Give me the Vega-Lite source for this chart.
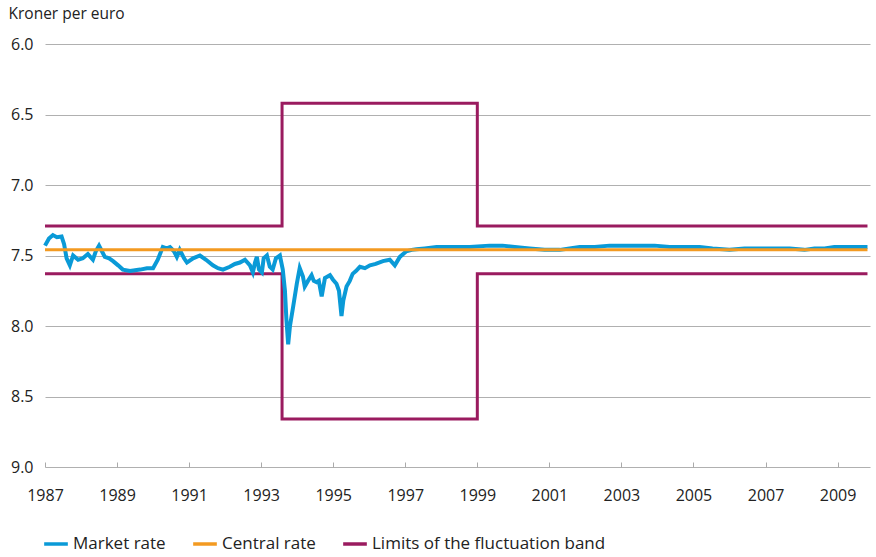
{
  "$schema": "https://vega.github.io/schema/vega-lite/v6.json",
  "width": 825,
  "height": 423,
  "autosize": {"type": "none"},
  "padding": {"left": 45, "top": 44, "right": 6, "bottom": 90},
  "background": "white",
  "config": {
    "view": {"stroke": null},
    "font": "Open Sans",
    "axis": {"labelFont": "Open Sans", "titleFont": "Open Sans", "labelColor": "#222", "titleColor": "#222"},
    "legend": {"labelFont": "Open Sans"}
  },
  "datasets": {
    "rates": [
      {"series": "Market rate", "part": "m", "i": 0, "t": 1987.00, "v": 7.43},
      {"series": "Market rate", "part": "m", "i": 1, "t": 1987.11, "v": 7.38},
      {"series": "Market rate", "part": "m", "i": 2, "t": 1987.22, "v": 7.355},
      {"series": "Market rate", "part": "m", "i": 3, "t": 1987.33, "v": 7.37},
      {"series": "Market rate", "part": "m", "i": 4, "t": 1987.46, "v": 7.365},
      {"series": "Market rate", "part": "m", "i": 5, "t": 1987.53, "v": 7.42},
      {"series": "Market rate", "part": "m", "i": 6, "t": 1987.60, "v": 7.52},
      {"series": "Market rate", "part": "m", "i": 7, "t": 1987.69, "v": 7.57},
      {"series": "Market rate", "part": "m", "i": 8, "t": 1987.78, "v": 7.50},
      {"series": "Market rate", "part": "m", "i": 9, "t": 1987.92, "v": 7.53},
      {"series": "Market rate", "part": "m", "i": 10, "t": 1988.05, "v": 7.52},
      {"series": "Market rate", "part": "m", "i": 11, "t": 1988.19, "v": 7.49},
      {"series": "Market rate", "part": "m", "i": 12, "t": 1988.33, "v": 7.53},
      {"series": "Market rate", "part": "m", "i": 13, "t": 1988.41, "v": 7.47},
      {"series": "Market rate", "part": "m", "i": 14, "t": 1988.50, "v": 7.43},
      {"series": "Market rate", "part": "m", "i": 15, "t": 1988.58, "v": 7.47},
      {"series": "Market rate", "part": "m", "i": 16, "t": 1988.66, "v": 7.51},
      {"series": "Market rate", "part": "m", "i": 17, "t": 1988.78, "v": 7.52},
      {"series": "Market rate", "part": "m", "i": 18, "t": 1988.89, "v": 7.54},
      {"series": "Market rate", "part": "m", "i": 19, "t": 1989.03, "v": 7.57},
      {"series": "Market rate", "part": "m", "i": 20, "t": 1989.16, "v": 7.60},
      {"series": "Market rate", "part": "m", "i": 21, "t": 1989.36, "v": 7.61},
      {"series": "Market rate", "part": "m", "i": 22, "t": 1989.64, "v": 7.60},
      {"series": "Market rate", "part": "m", "i": 23, "t": 1989.83, "v": 7.59},
      {"series": "Market rate", "part": "m", "i": 24, "t": 1990.00, "v": 7.59},
      {"series": "Market rate", "part": "m", "i": 25, "t": 1990.13, "v": 7.53},
      {"series": "Market rate", "part": "m", "i": 26, "t": 1990.27, "v": 7.44},
      {"series": "Market rate", "part": "m", "i": 27, "t": 1990.38, "v": 7.45},
      {"series": "Market rate", "part": "m", "i": 28, "t": 1990.47, "v": 7.44},
      {"series": "Market rate", "part": "m", "i": 29, "t": 1990.58, "v": 7.47},
      {"series": "Market rate", "part": "m", "i": 30, "t": 1990.66, "v": 7.51},
      {"series": "Market rate", "part": "m", "i": 31, "t": 1990.74, "v": 7.46},
      {"series": "Market rate", "part": "m", "i": 32, "t": 1990.86, "v": 7.52},
      {"series": "Market rate", "part": "m", "i": 33, "t": 1990.94, "v": 7.55},
      {"series": "Market rate", "part": "m", "i": 34, "t": 1991.11, "v": 7.52},
      {"series": "Market rate", "part": "m", "i": 35, "t": 1991.30, "v": 7.50},
      {"series": "Market rate", "part": "m", "i": 36, "t": 1991.47, "v": 7.53},
      {"series": "Market rate", "part": "m", "i": 37, "t": 1991.66, "v": 7.57},
      {"series": "Market rate", "part": "m", "i": 38, "t": 1991.80, "v": 7.59},
      {"series": "Market rate", "part": "m", "i": 39, "t": 1991.94, "v": 7.60},
      {"series": "Market rate", "part": "m", "i": 40, "t": 1992.13, "v": 7.58},
      {"series": "Market rate", "part": "m", "i": 41, "t": 1992.27, "v": 7.56},
      {"series": "Market rate", "part": "m", "i": 42, "t": 1992.41, "v": 7.55},
      {"series": "Market rate", "part": "m", "i": 43, "t": 1992.55, "v": 7.53},
      {"series": "Market rate", "part": "m", "i": 44, "t": 1992.69, "v": 7.57},
      {"series": "Market rate", "part": "m", "i": 45, "t": 1992.77, "v": 7.62},
      {"series": "Market rate", "part": "m", "i": 46, "t": 1992.83, "v": 7.55},
      {"series": "Market rate", "part": "m", "i": 47, "t": 1992.88, "v": 7.51},
      {"series": "Market rate", "part": "m", "i": 48, "t": 1992.94, "v": 7.60},
      {"series": "Market rate", "part": "m", "i": 49, "t": 1993.02, "v": 7.62},
      {"series": "Market rate", "part": "m", "i": 50, "t": 1993.07, "v": 7.52},
      {"series": "Market rate", "part": "m", "i": 51, "t": 1993.16, "v": 7.50},
      {"series": "Market rate", "part": "m", "i": 52, "t": 1993.24, "v": 7.58},
      {"series": "Market rate", "part": "m", "i": 53, "t": 1993.32, "v": 7.60},
      {"series": "Market rate", "part": "m", "i": 54, "t": 1993.41, "v": 7.52},
      {"series": "Market rate", "part": "m", "i": 55, "t": 1993.52, "v": 7.50},
      {"series": "Market rate", "part": "m", "i": 56, "t": 1993.60, "v": 7.60},
      {"series": "Market rate", "part": "m", "i": 57, "t": 1993.66, "v": 7.75},
      {"series": "Market rate", "part": "m", "i": 58, "t": 1993.70, "v": 7.95},
      {"series": "Market rate", "part": "m", "i": 59, "t": 1993.75, "v": 8.13},
      {"series": "Market rate", "part": "m", "i": 60, "t": 1993.80, "v": 8.00},
      {"series": "Market rate", "part": "m", "i": 61, "t": 1993.89, "v": 7.86},
      {"series": "Market rate", "part": "m", "i": 62, "t": 1993.99, "v": 7.70},
      {"series": "Market rate", "part": "m", "i": 63, "t": 1994.07, "v": 7.59},
      {"series": "Market rate", "part": "m", "i": 64, "t": 1994.16, "v": 7.65},
      {"series": "Market rate", "part": "m", "i": 65, "t": 1994.21, "v": 7.72},
      {"series": "Market rate", "part": "m", "i": 66, "t": 1994.30, "v": 7.68},
      {"series": "Market rate", "part": "m", "i": 67, "t": 1994.40, "v": 7.64},
      {"series": "Market rate", "part": "m", "i": 68, "t": 1994.46, "v": 7.68},
      {"series": "Market rate", "part": "m", "i": 69, "t": 1994.54, "v": 7.69},
      {"series": "Market rate", "part": "m", "i": 70, "t": 1994.60, "v": 7.68},
      {"series": "Market rate", "part": "m", "i": 71, "t": 1994.68, "v": 7.79},
      {"series": "Market rate", "part": "m", "i": 72, "t": 1994.77, "v": 7.66},
      {"series": "Market rate", "part": "m", "i": 73, "t": 1994.91, "v": 7.64},
      {"series": "Market rate", "part": "m", "i": 74, "t": 1994.99, "v": 7.67},
      {"series": "Market rate", "part": "m", "i": 75, "t": 1995.09, "v": 7.70},
      {"series": "Market rate", "part": "m", "i": 76, "t": 1995.16, "v": 7.75},
      {"series": "Market rate", "part": "m", "i": 77, "t": 1995.23, "v": 7.93},
      {"series": "Market rate", "part": "m", "i": 78, "t": 1995.28, "v": 7.82},
      {"series": "Market rate", "part": "m", "i": 79, "t": 1995.37, "v": 7.72},
      {"series": "Market rate", "part": "m", "i": 80, "t": 1995.46, "v": 7.68},
      {"series": "Market rate", "part": "m", "i": 81, "t": 1995.54, "v": 7.63},
      {"series": "Market rate", "part": "m", "i": 82, "t": 1995.63, "v": 7.61},
      {"series": "Market rate", "part": "m", "i": 83, "t": 1995.74, "v": 7.58},
      {"series": "Market rate", "part": "m", "i": 84, "t": 1995.88, "v": 7.59},
      {"series": "Market rate", "part": "m", "i": 85, "t": 1996.02, "v": 7.57},
      {"series": "Market rate", "part": "m", "i": 86, "t": 1996.18, "v": 7.56},
      {"series": "Market rate", "part": "m", "i": 87, "t": 1996.38, "v": 7.54},
      {"series": "Market rate", "part": "m", "i": 88, "t": 1996.57, "v": 7.53},
      {"series": "Market rate", "part": "m", "i": 89, "t": 1996.71, "v": 7.57},
      {"series": "Market rate", "part": "m", "i": 90, "t": 1996.85, "v": 7.51},
      {"series": "Market rate", "part": "m", "i": 91, "t": 1997.03, "v": 7.47},
      {"series": "Market rate", "part": "m", "i": 92, "t": 1997.18, "v": 7.46},
      {"series": "Market rate", "part": "m", "i": 93, "t": 1997.31, "v": 7.456},
      {"series": "Market rate", "part": "m", "i": 94, "t": 1997.54, "v": 7.45},
      {"series": "Market rate", "part": "m", "i": 95, "t": 1997.87, "v": 7.44},
      {"series": "Market rate", "part": "m", "i": 96, "t": 1998.23, "v": 7.44},
      {"series": "Market rate", "part": "m", "i": 97, "t": 1998.79, "v": 7.44},
      {"series": "Market rate", "part": "m", "i": 98, "t": 1999.34, "v": 7.43},
      {"series": "Market rate", "part": "m", "i": 99, "t": 1999.70, "v": 7.43},
      {"series": "Market rate", "part": "m", "i": 100, "t": 2000.04, "v": 7.44},
      {"series": "Market rate", "part": "m", "i": 101, "t": 2000.45, "v": 7.45},
      {"series": "Market rate", "part": "m", "i": 102, "t": 2000.87, "v": 7.46},
      {"series": "Market rate", "part": "m", "i": 103, "t": 2001.29, "v": 7.46},
      {"series": "Market rate", "part": "m", "i": 104, "t": 2001.56, "v": 7.45},
      {"series": "Market rate", "part": "m", "i": 105, "t": 2001.84, "v": 7.44},
      {"series": "Market rate", "part": "m", "i": 106, "t": 2002.26, "v": 7.44},
      {"series": "Market rate", "part": "m", "i": 107, "t": 2002.67, "v": 7.43},
      {"series": "Market rate", "part": "m", "i": 108, "t": 2003.09, "v": 7.43},
      {"series": "Market rate", "part": "m", "i": 109, "t": 2003.51, "v": 7.43},
      {"series": "Market rate", "part": "m", "i": 110, "t": 2003.92, "v": 7.43},
      {"series": "Market rate", "part": "m", "i": 111, "t": 2004.34, "v": 7.44},
      {"series": "Market rate", "part": "m", "i": 112, "t": 2004.75, "v": 7.44},
      {"series": "Market rate", "part": "m", "i": 113, "t": 2005.17, "v": 7.44},
      {"series": "Market rate", "part": "m", "i": 114, "t": 2005.53, "v": 7.45},
      {"series": "Market rate", "part": "m", "i": 115, "t": 2006.00, "v": 7.46},
      {"series": "Market rate", "part": "m", "i": 116, "t": 2006.42, "v": 7.45},
      {"series": "Market rate", "part": "m", "i": 117, "t": 2006.83, "v": 7.45},
      {"series": "Market rate", "part": "m", "i": 118, "t": 2007.25, "v": 7.45},
      {"series": "Market rate", "part": "m", "i": 119, "t": 2007.67, "v": 7.45},
      {"series": "Market rate", "part": "m", "i": 120, "t": 2008.08, "v": 7.46},
      {"series": "Market rate", "part": "m", "i": 121, "t": 2008.36, "v": 7.45},
      {"series": "Market rate", "part": "m", "i": 122, "t": 2008.64, "v": 7.45},
      {"series": "Market rate", "part": "m", "i": 123, "t": 2008.91, "v": 7.44},
      {"series": "Market rate", "part": "m", "i": 124, "t": 2009.33, "v": 7.44},
      {"series": "Market rate", "part": "m", "i": 125, "t": 2009.83, "v": 7.44},
      {"series": "Central rate", "part": "c", "i": 0, "t": 1987.00, "v": 7.46},
      {"series": "Central rate", "part": "c", "i": 1, "t": 2009.83, "v": 7.46},
      {"series": "Limits of the fluctuation  band", "part": "upper", "i": 0, "t": 1987.00, "v": 7.29},
      {"series": "Limits of the fluctuation  band", "part": "upper", "i": 1, "t": 1993.58, "v": 7.29},
      {"series": "Limits of the fluctuation  band", "part": "upper", "i": 2, "t": 1993.58, "v": 6.42},
      {"series": "Limits of the fluctuation  band", "part": "upper", "i": 3, "t": 1999.00, "v": 6.42},
      {"series": "Limits of the fluctuation  band", "part": "upper", "i": 4, "t": 1999.00, "v": 7.29},
      {"series": "Limits of the fluctuation  band", "part": "upper", "i": 5, "t": 2009.83, "v": 7.29},
      {"series": "Limits of the fluctuation  band", "part": "lower", "i": 0, "t": 1987.00, "v": 7.63},
      {"series": "Limits of the fluctuation  band", "part": "lower", "i": 1, "t": 1993.58, "v": 7.63},
      {"series": "Limits of the fluctuation  band", "part": "lower", "i": 2, "t": 1993.58, "v": 8.66},
      {"series": "Limits of the fluctuation  band", "part": "lower", "i": 3, "t": 1999.00, "v": 8.66},
      {"series": "Limits of the fluctuation  band", "part": "lower", "i": 4, "t": 1999.00, "v": 7.63},
      {"series": "Limits of the fluctuation  band", "part": "lower", "i": 5, "t": 2009.83, "v": 7.63}
    ]
  },
  "data": {"name": "rates"},
  "encoding": {
    "x": {
      "field": "t", "type": "quantitative",
      "scale": {"domain": [1987, 2009.9], "nice": false, "zero": false},
      "axis": {
        "title": null,
        "values": [1987, 1989, 1991, 1993, 1995, 1997, 1999, 2001, 2003, 2005, 2007, 2009],
        "format": "d",
        "grid": false,
        "domain": false,
        "ticks": true,
        "tickSize": -5,
        "tickColor": "#aaaaaa",
        "labelFlush": false,
        "labelFontSize": 16,
        "labelPadding": 25
      }
    },
    "y": {
      "field": "v", "type": "quantitative",
      "scale": {"domain": [6, 9], "reverse": true, "nice": false, "zero": false},
      "axis": {
        "title": "Kroner per euro",
        "titleAngle": 0,
        "titleX": -37,
        "titleY": -31,
        "titleAlign": "left",
        "titleBaseline": "middle",
        "titleFontSize": 15.5,
        "titleFontWeight": "normal",
        "values": [6, 6.5, 7, 7.5, 8, 8.5, 9],
        "format": ".1f",
        "grid": true,
        "gridColor": "#b0b0b0",
        "gridWidth": 1,
        "domain": false,
        "ticks": false,
        "labelFontSize": 16,
        "labelPadding": 12
      }
    },
    "color": {
      "field": "series", "type": "nominal",
      "scale": {
        "domain": ["Market rate", "Central rate", "Limits of the fluctuation  band"],
        "range": ["#0a9ad7", "#f39a21", "#9a1b5f"]
      },
      "legend": {
        "title": null,
        "orient": "none",
        "legendX": -3,
        "legendY": 486,
        "direction": "horizontal",
        "symbolType": "stroke",
        "symbolStrokeWidth": 3.5,
        "symbolSize": 560,
        "labelFontSize": 17,
        "labelColor": "#222",
        "labelOffset": 3,
        "columnPadding": 20,
        "labelLimit": 400
      }
    },
    "detail": {"field": "part", "type": "nominal"},
    "order": {"field": "i", "type": "quantitative"}
  },
  "layer": [
    {
      "transform": [{"filter": "datum.series === 'Limits of the fluctuation  band'"}],
      "mark": {"type": "line", "strokeWidth": 3, "strokeJoin": "miter"}
    },
    {
      "transform": [{"filter": "datum.series === 'Market rate'"}],
      "mark": {"type": "line", "strokeWidth": 4}
    },
    {
      "transform": [{"filter": "datum.series === 'Central rate'"}],
      "mark": {"type": "line", "strokeWidth": 3}
    }
  ]
}
